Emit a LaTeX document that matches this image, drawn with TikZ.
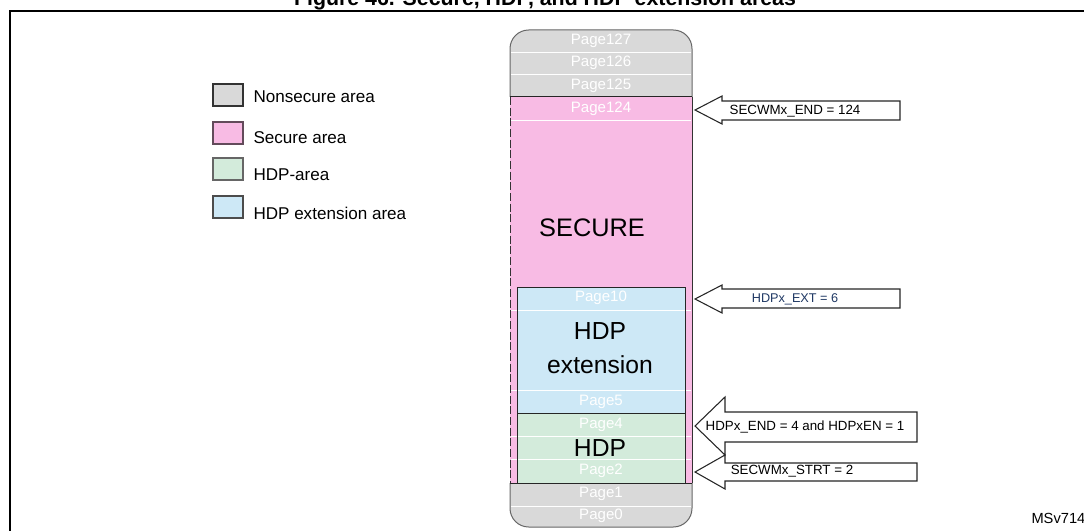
\documentclass[tikz,border=0pt]{standalone}
\usepackage{fontspec}
\setmainfont{Liberation Sans}
\definecolor{nsgray}{HTML}{D9D9D9}
\definecolor{secpink}{HTML}{F8BBE4}
\definecolor{hdpgreen}{HTML}{D3EBDB}
\definecolor{extblue}{HTML}{CDE8F6}
\definecolor{regblue}{HTML}{1F3864}
\tikzset{every picture/.style={line width=0.75pt}}
\tikzset{
  page/.style={text=white,font=\fontsize{11.3}{13}\selectfont,inner sep=0.75pt},
  sep/.style={white,line width=0.6pt},
  legbox/.style={draw=black!80,line width=0.9pt},
  legtext/.style={anchor=west,font=\fontsize{12.8}{15}\selectfont,inner sep=0.75pt},
  blockarrow/.style={draw=black!85,fill=white,line width=0.8pt},
  argtext/.style={font=\fontsize{10}{12}\selectfont,inner sep=0.75pt}
}

\begin{document}
\begin{tikzpicture}[x=0.75pt,y=0.75pt,yscale=-1,xscale=1]
\useasboundingbox (0,0) rectangle (1084,531);

% Title and frame
\node (title) at (545,0) [font=\bfseries\fontsize{16}{18}\selectfont] {Figure 46. Secure, HDP, and HDP extension areas};
\draw [line width=1.5pt] (10,560) -- (10,11) -- (1100,11);

% Legend
\draw [legbox,fill=nsgray] (213,84) rectangle (243,106);
\node (lgns) at (252,97) [legtext] {Nonsecure area};
\draw [legbox,draw=black!60!secpink,fill=secpink] (213,122) rectangle (243,144);
\node (lgsec) at (252,138) [legtext] {Secure area};
\draw [legbox,draw=black!60,fill=hdpgreen] (213,158) rectangle (243,180);
\node (lghdp) at (252,175) [legtext] {HDP-area};
\draw [legbox,draw=black!70,fill=extblue] (213,196) rectangle (243,218);
\node (lgext) at (252,213) [legtext] {HDP extension area};

% Memory column
\fill [nsgray,rounded corners=14pt] (510,30) rectangle (692,120);
\fill [nsgray,rounded corners=14pt] (510,460) rectangle (692,527);
\fill [secpink] (510,97) rectangle (692,483);
\draw [black!80,dash pattern={on 6pt off 2pt}] (510,97) -- (510,483);
\draw [black!80] (692,97) -- (692,483);
\draw [black!60,rounded corners=14pt] (510,97) -- (510,30) -- (692,30) -- (692,97);
\draw [black!60,rounded corners=14pt] (510,483) -- (510,527) -- (692,527) -- (692,483);
\draw [black!85] (510,97) -- (692,97);
\draw [black!85] (510,483) -- (692,483);
\fill [extblue] (517,287) rectangle (685,413);
\fill [hdpgreen] (517,413) rectangle (685,483);

% Page separators
\foreach \y in {52,74,120,310,390,436,459,506}
  \draw [sep] (511,\y) -- (691,\y);
\draw [black!85] (517,287) rectangle (685,413);
\draw [black!85] (517,413) rectangle (685,483);

% Page labels
\node (p127) at (601,41) [page] {Page127};
\node (p126) at (601,63) [page] {Page126};
\node (p125) at (601,86) [page] {Page125};
\node (p124) at (601,109) [page] {Page124};
\node (p10) at (601,298) [page] {Page10};
\node (p5) at (601,402) [page] {Page5};
\node (p4) at (601,425) [page] {Page4};
\node (p2) at (601,471) [page] {Page2};
\node (p1) at (601,494) [page] {Page1};
\node (p0) at (601,516) [page] {Page0};

% Area names
\node (secure) at (592,228) [font=\fontsize{19}{22}\selectfont] {SECURE};
\node (hdpext) at (600,348) [font=\fontsize{18.5}{26}\selectfont,align=center] {HDP\\extension};
\node (hdp) at (600,448) [font=\fontsize{18.5}{22}\selectfont] {HDP};

% Register arrows
\draw [blockarrow] (695,110) -- (722,96) -- (722,101) -- (900,101) -- (900,120) -- (722,120) -- (722,124) -- cycle;
\node (secend) at (795,111) [argtext] {SECWMx\_END = 124};
\draw [blockarrow] (695,299) -- (722,285) -- (722,289) -- (900,289) -- (900,308) -- (722,308) -- (722,313) -- cycle;
\node (hdpxext) at (795,299) [argtext,text=regblue,font=\fontsize{9.5}{11}\selectfont] {HDPx\_EXT = 6};
\draw [blockarrow] (695,426) -- (725,397) -- (725,412) -- (917,412) -- (917,442) -- (725,442) -- (725,455) -- cycle;
\node (hdpend) at (805,427) [argtext] {HDPx\_END = 4 and HDPxEN = 1};
\draw [blockarrow] (695,472) -- (725,455) -- (725,463) -- (917,463) -- (917,481) -- (725,481) -- (725,489) -- cycle;
\node (secstrt) at (792,471) [argtext] {SECWMx\_STRT = 2};

% Figure reference
\node (ref) at (1030,518) [font=\fontsize{11}{13}\selectfont,anchor=west,inner sep=0.75pt] {MSv71424V1};
\end{tikzpicture}
\end{document}
